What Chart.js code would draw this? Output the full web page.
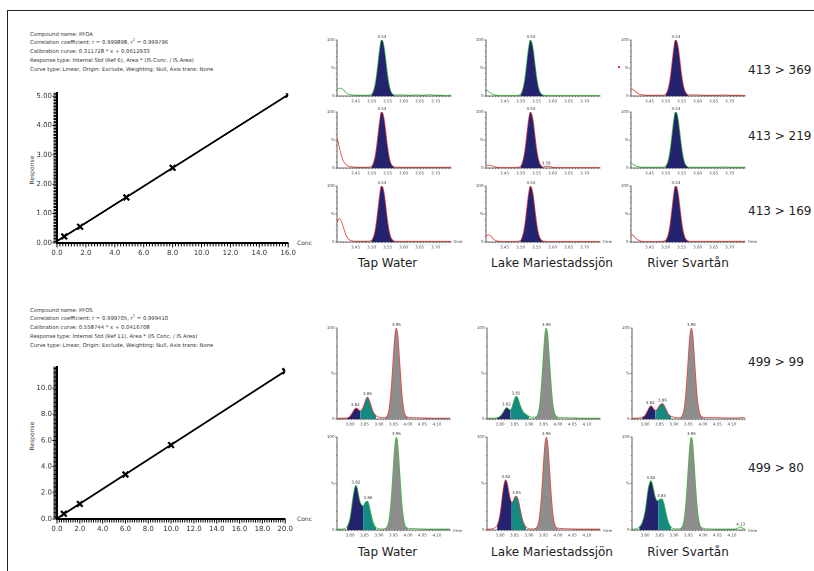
<!DOCTYPE html>
<html><head><meta charset="utf-8">
<script src="https://cdn.jsdelivr.net/npm/chart.js@4/dist/chart.umd.min.js"></script>
<style>
html,body{margin:0;padding:0;background:#fff;}
body{width:814px;height:571px;position:relative;overflow:hidden;font-family:"DejaVu Sans",Verdana,sans-serif;}
.frame{position:absolute;background:#222;}
.info{position:absolute;left:30px;font-size:5.3px;line-height:8.75px;color:#333;white-space:pre;}
.info sup{font-size:3.6px;line-height:0;vertical-align:3px;}
.big{position:absolute;font-size:12px;line-height:14px;color:#222;white-space:nowrap;}
.ctr{transform:translateX(-50%);}
.small{position:absolute;font-size:6px;line-height:8px;color:#444;white-space:nowrap;}
.rot{transform:translate(-50%,-50%) rotate(-90deg);}
.tiny{position:absolute;font-size:4px;line-height:5px;color:#444;white-space:nowrap;}
canvas{position:absolute;}
</style></head><body>
<div class="frame" style="left:7px;top:10px;width:1px;height:561px"></div>
<div class="frame" style="left:7px;top:10px;width:807px;height:1px"></div>

<div class="info" style="top:29.6px">Compound name: PFOA
Correlation coefficient: r = 0.999898, r<sup>2</sup> = 0.999796
Calibration curve: 0.311728 * x + 0.0612933
Response type: Internal Std (Ref 6), Area * (IS Conc. / IS Area)
Curve type: Linear, Origin: Exclude, Weighting: Null, Axis trans: None</div>
<div class="info" style="top:305.6px">Compound name: PFOS
Correlation coefficient: r = 0.999705, r<sup>2</sup> = 0.999410
Calibration curve: 0.558744 * x + 0.0416708
Response type: Internal Std (Ref 11), Area * (IS Conc. / IS Area)
Curve type: Linear, Origin: Exclude, Weighting: Null, Axis trans: None</div>

<div class="small rot" style="left:31.5px;top:170px">Response</div>
<div class="small rot" style="left:31.5px;top:436px">Response</div>
<div class="small" style="left:297px;top:239px">Conc</div>
<div class="small" style="left:297px;top:515px">Conc</div>

<div class="big" style="left:748px;top:63px">413 &gt; 369</div>
<div class="big" style="left:748px;top:129px">413 &gt; 219</div>
<div class="big" style="left:748px;top:204px">413 &gt; 169</div>
<div class="big" style="left:748px;top:355px">499 &gt; 99</div>
<div class="big" style="left:748px;top:461px">499 &gt; 80</div>

<div class="big ctr" style="left:387.5px;top:256px">Tap Water</div>
<div class="big ctr" style="left:552px;top:256px">Lake Mariestadssjön</div>
<div class="big ctr" style="left:688px;top:256px">River Svartån</div>
<div class="big ctr" style="left:387.5px;top:545px">Tap Water</div>
<div class="big ctr" style="left:552px;top:545px">Lake Mariestadssjön</div>
<div class="big ctr" style="left:688px;top:545px">River Svartån</div>
<div style="position:absolute;left:618px;top:66px;width:2px;height:2px;background:#e33"></div>

<script>
// ---------------- calibration data ----------------
const pfoaConc = [0.5, 1.6, 4.8, 8.0, 16.0];
const pfoaResp = [0.22, 0.55, 1.55, 2.56, 5.05];
const pfoaFitConc = [0, 16];
const pfoaFitResp = [0.06, 5.05];
const pfosConc = [0.6, 2.0, 6.0, 10.0, 20.0];
const pfosResp = [0.4, 1.15, 3.4, 5.65, 11.3];
const pfosFitConc = [0, 20];
const pfosFitResp = [0.04, 11.3];

// ---------------- chromatogram data (% intensity) ----------------
const pfoaTime = [3.392,3.40,3.41,3.42,3.43,3.44,3.46,3.49,3.50,3.505,3.51,3.515,3.52,3.525,3.53,3.535,3.54,3.545,3.55,3.555,3.56,3.565,3.57,3.58,3.60,3.62,3.64,3.66,3.68,3.70,3.72,3.735,3.742,3.748];
const pfoaTapMrm369   = [12,14,12,6,3,2,1.5,1.5, 3,8,18,36,60,84,100,98,85,62,38,20,9,4,2, 2,2,1.5,2,1.5,2.5,1.5,1.5,1,1.5,1];
const pfoaLakeMrm369  = [11,8,4,2,1.2,1,1,1.2, 3,9,20,39,64,87,100,96,82,58,35,18,8,3.5,1.8, 1.2,1,1,1,1,1,1,1,1,1,1];
const pfoaRiverMrm369 = [14,11,6,3,2,1.5,1.5,1.5, 3,8,18,35,59,83,100,98,86,63,39,21,10,4.5,2.2, 2,2,1.5,1.5,1.5,2,1.5,1.5,1.5,1.2,1.2];
const pfoaTapMrm219   = [55,35,15,6,3,2,1.5,1.5, 3,8,18,36,60,84,100,98,85,62,38,20,9,4,2, 1.5,1.5,1.5,1.5,1.5,1.5,1.5,1.5,1.5,1.5,1.5];
const pfoaLakeMrm219  = [5,5,4,2,1.2,1,1,1.2, 3,9,20,39,64,87,100,96,82,58,35,18,8,3.5,2, 3,1.5,1,1,1,1,1,1,1,1,1];
const pfoaRiverMrm219 = [9,6,3,2,1.5,1.5,1.5,1.5, 3,8,18,36,60,84,100,98,85,62,38,20,9,4,2, 1.5,1.5,1.5,1.5,1.5,2,1.5,1.5,1.5,1.5,1.5];
const pfoaTapMrm169   = [35,42,30,12,4,2,1.5,1.5, 3,8,18,36,60,84,100,98,85,62,38,20,9,4,2, 1.2,1.2,1.2,1.2,1.2,1.2,1.2,1.2,1.2,1.2,1.2];
const pfoaLakeMrm169  = [10,13,9,3,1.5,1.2,1,1.2, 3,9,20,39,64,87,100,96,82,58,35,18,8,3.5,1.8, 1.2,1,1,1,1,1,1,1,1,1,1];
const pfoaRiverMrm169 = [15,11,5,2,1.2,1,1,1.2, 3,8,18,36,60,84,100,98,85,62,38,20,9,4,2, 1.2,1.2,1.2,1.2,1.2,1.2,1.2,1.2,1.2,1.2,1.2];
const pfoaPeakLabels = [[3.532, 100, "3.53"]];
const pfoaLakeMrm219Labels = [[3.532, 100, "3.53"], [3.58, 3, "3.58"]];
const pfoaPeakRange = [8, 22];

const pfosTime = [3.755,3.77,3.78,3.79,3.80,3.81,3.815,3.82,3.825,3.83,3.835,3.84,3.845,3.85,3.855,3.86,3.865,3.87,3.88,3.89,3.90,3.91,3.92,3.93,3.935,3.94,3.945,3.95,3.955,3.96,3.965,3.97,3.975,3.98,3.985,3.99,4.00,4.02,4.05,4.08,4.11,4.12,4.13,4.14,4.145];
const pfosTapMrm99    = [1,1,1,1.2,3,8,10.5,12,11.5,10,9,10,13,17.5,22,24,22,17.5,8,3.5,2,1.5, 1.5,5,12,26,47,72,93,100,92,70,46,25,12,5,2, 1.5,1.2,1,1,1,1,1,1];
const pfosLakeMrm99   = [1,1,1,1.5,3,7,10,12,12.5,11,10,12,17,22,25,24,20,15,8,5,3,2, 2,5,12,26,48,73,94,100,91,69,45,24,11,5,2, 1.5,1.2,1,1,1,1,1,1];
const pfosRiverMrm99  = [1,1,1.2,2,4,10,13,14.5,13.5,11,9.5,10,12.5,15,16.5,17,15.5,12.5,6,3,2,1.5, 1.5,5,12,26,47,72,93,100,92,70,46,25,12,5,2, 1.5,1.5,1.2,1.2,1.2,1.5,1.5,1.5];
const pfosTapMrm80    = [1,1,1.5,3.5,13,35,44,48,45,37,30,27,26,28.5,30.5,31,28,21,8,2.5,1.5,1.2, 1.5,5,12,26,47,72,93,100,92,70,46,25,12,5,2, 1.5,1.2,1,1,1,1,1,1];
const pfosLakeMrm80   = [1,1.2,2,5,17,42,51,54,50,42,34,30,31,35,36.5,35,30,22,9,3,1.5,1.2, 1.5,5,12,26,47,72,93,100,92,70,46,25,12,5,2, 1.5,1.2,1,1,1,1,1,1];
const pfosRiverMrm80  = [1,1.5,3,8,20,43,50,53,50,43,36,32,31.5,33,33.5,33,29,22,9,3,1.5,1.2, 1.5,5,12,26,47,72,93,100,92,70,46,25,12,5,2, 1.2,1,1,1,2,3,1.5,1];
// peak fill index ranges: [navyStart, split, tealEnd]
const pfosTapMrm99Ranges   = [3, 10, 19];
const pfosLakeMrm99Ranges  = [3, 10, 20];
const pfosRiverMrm99Ranges = [3, 10, 19];
const pfosTapMrm80Ranges   = [3, 12, 19];
const pfosLakeMrm80Ranges  = [3, 11, 19];
const pfosRiverMrm80Ranges = [2, 12, 19];
const pfosGreyRange = [22, 36];
const pfosTapMrm99Labels   = [[3.818,12,"3.82"],[3.86,24,"3.86"],[3.96,100,"3.96"]];
const pfosLakeMrm99Labels  = [[3.822,12.5,"3.82"],[3.855,25,"3.85"],[3.96,100,"3.96"]];
const pfosRiverMrm99Labels = [[3.818,14.5,"3.82"],[3.86,17,"3.86"],[3.96,100,"3.96"]];
const pfosTapMrm80Labels   = [[3.82,48,"3.82"],[3.862,31,"3.86"],[3.96,100,"3.96"]];
const pfosLakeMrm80Labels  = [[3.82,54,"3.82"],[3.857,36.5,"3.85"],[3.96,100,"3.96"]];
const pfosRiverMrm80Labels = [[3.82,53,"3.82"],[3.857,33.5,"3.85"],[3.96,100,"3.96"],[4.13,3,"4.13"]];

// ---------------- styles ----------------
const NAVY = '#23236f', TEAL = '#158a82', GREY = '#8d8d8d', GREEN = '#3fbf3f', RED = '#e8463e';
const FONT = 'DejaVu Sans';

function makeCanvas(left, top, w, h) {
  const c = document.createElement('canvas');
  c.style.left = left + 'px'; c.style.top = top + 'px';
  c.style.width = w + 'px'; c.style.height = h + 'px';
  c.width = w; c.height = h;
  document.body.appendChild(c);
  return c;
}
function near(v, step) { return Math.abs(v / step - Math.round(v / step)) < 1e-6; }

const peakLabelPlugin = {
  id: 'peakLabels',
  afterDatasetsDraw(chart, args, opts) {
    const items = opts.items || [];
    const ctx = chart.ctx;
    ctx.save();
    ctx.font = '4px "' + FONT + '"';
    ctx.fillStyle = '#333';
    ctx.textAlign = 'center';
    ctx.textBaseline = 'bottom';
    items.forEach(it => {
      ctx.fillText(it[2], chart.scales.x.getPixelForValue(it[0]), chart.scales.y.getPixelForValue(it[1]) - 1);
    });
    ctx.restore();
  }
};

// dense "ruler" tick marks drawn through the chart's own scales
function makeRuler(o) {
  return {
    id: 'ruler',
    afterDraw(chart) {
      const ctx = chart.ctx, xs = chart.scales.x, ys = chart.scales.y, ca = chart.chartArea;
      ctx.save();
      ctx.strokeStyle = o.color;
      ctx.lineWidth = o.width;
      for (let i = 0; i < 2000; i++) {
        const v = xs.min + i * o.xStep;
        if (v > xs.max + 1e-9) break;
        const p = xs.getPixelForValue(v);
        const L = near(v, o.xMajor) ? o.major : o.minor;
        ctx.beginPath(); ctx.moveTo(p, ca.bottom); ctx.lineTo(p, ca.bottom + L); ctx.stroke();
      }
      for (let i = 0; i < 2000; i++) {
        const v = ys.min + i * o.yStep;
        if (v > ys.max + 1e-9) break;
        const p = ys.getPixelForValue(v);
        const L = near(v, o.yMajor) ? o.major : o.minor;
        ctx.beginPath(); ctx.moveTo(ca.left, p); ctx.lineTo(ca.left - L, p); ctx.stroke();
      }
      ctx.restore();
    }
  };
}

function pts(xs, ys, a, b) {
  const out = [];
  for (let i = a; i <= b; i++) out.push({x: xs[i], y: ys[i]});
  return out;
}

function chrom(spec) {
  const padT = 9, padR = 4, yW = 14, xH = 10;
  const cw = yW + spec.w + padR, ch = padT + spec.h + xH;
  const c = makeCanvas(spec.left - yW, spec.top - padT, cw, ch);
  const xs = spec.time, ys = spec.values;
  const datasets = [{
    data: pts(xs, ys, 0, xs.length - 1), borderColor: spec.color, borderWidth: 0.8,
    fill: false, cubicInterpolationMode: 'monotone', pointRadius: 0
  }];
  spec.fills.forEach(f => {
    datasets.push({
      data: pts(xs, ys, f[0], f[1]), borderWidth: 0, borderColor: 'rgba(0,0,0,0)',
      backgroundColor: f[2], fill: 'origin', cubicInterpolationMode: 'monotone', pointRadius: 0
    });
  });
  const axisGrid = {display: false, drawTicks: false, tickLength: 0};
  const axisBorder = {display: true, color: '#333', width: 0.8};
  new Chart(c, {
    type: 'line',
    data: {datasets},
    options: {
      responsive: false, animation: false, devicePixelRatio: 2,
      layout: {padding: {top: padT, right: padR, left: 0, bottom: 0}},
      plugins: {legend: {display: false}, tooltip: {enabled: false}, peakLabels: {items: spec.labels}},
      scales: {
        x: {
          type: 'linear', min: spec.min, max: spec.max,
          afterFit(s) { s.height = xH; },
          ticks: {stepSize: 0.05, includeBounds: false, autoSkip: false, maxRotation: 0, minRotation: 0,
            padding: 3, font: {size: 4, family: FONT}, color: '#444',
            callback: function (v) {
              return (near(v, 0.05) && v > this.min + 0.015 && v < this.max - 0.015) ? v.toFixed(2) : '';
            }},
          grid: axisGrid, border: axisBorder
        },
        y: {
          min: 0, max: 100,
          afterFit(s) { s.width = yW; },
          ticks: {stepSize: 50, includeBounds: false, autoSkip: false, padding: 2.5, font: {size: 4, family: FONT}, color: '#444',
            callback: v => v === 100 ? '100' : (v === 50 ? '%' : (v === 0 ? '0' : ''))},
          grid: axisGrid, border: axisBorder
        }
      }
    },
    plugins: [peakLabelPlugin, makeRuler({xStep: 0.01, xMajor: 0.05, yStep: 10, yMajor: 50, major: 2, minor: 1.2, width: 0.5, color: '#444'})]
  });
  if (spec.showTime) {
    const d = document.createElement('div');
    d.className = 'tiny';
    d.style.left = (spec.left + spec.w + 3) + 'px';
    d.style.top = (spec.top + spec.h - 2.5) + 'px';
    d.textContent = 'time';
    document.body.appendChild(d);
  }
}

// PFOA chromatograms
const pfoaCols = [336.5, 486, 631];
const pfoaRows = [39.5, 112, 185.5];
const pfoaGrid = [
  [pfoaTapMrm369, GREEN, pfoaPeakLabels], [pfoaLakeMrm369, GREEN, pfoaPeakLabels], [pfoaRiverMrm369, RED, pfoaPeakLabels],
  [pfoaTapMrm219, RED, pfoaPeakLabels], [pfoaLakeMrm219, RED, pfoaLakeMrm219Labels], [pfoaRiverMrm219, GREEN, pfoaPeakLabels],
  [pfoaTapMrm169, RED, pfoaPeakLabels], [pfoaLakeMrm169, RED, pfoaPeakLabels], [pfoaRiverMrm169, RED, pfoaPeakLabels]
];
pfoaGrid.forEach((g, i) => {
  const r = Math.floor(i / 3), col = i % 3;
  chrom({left: pfoaCols[col], top: pfoaRows[r], w: 114, h: 56, time: pfoaTime, values: g[0], color: g[1],
    labels: g[2], min: 3.392, max: 3.748, fills: [[pfoaPeakRange[0], pfoaPeakRange[1], NAVY]], showTime: r === 2});
});

// PFOS chromatograms
const pfosCols = [337, 487, 632];
const pfosRows = [327.5, 437];
const pfosGridSpec = [
  [pfosTapMrm99, RED, pfosTapMrm99Labels, pfosTapMrm99Ranges],
  [pfosLakeMrm99, GREEN, pfosLakeMrm99Labels, pfosLakeMrm99Ranges],
  [pfosRiverMrm99, RED, pfosRiverMrm99Labels, pfosRiverMrm99Ranges],
  [pfosTapMrm80, GREEN, pfosTapMrm80Labels, pfosTapMrm80Ranges],
  [pfosLakeMrm80, RED, pfosLakeMrm80Labels, pfosLakeMrm80Ranges],
  [pfosRiverMrm80, GREEN, pfosRiverMrm80Labels, pfosRiverMrm80Ranges]
];
pfosGridSpec.forEach((g, i) => {
  const r = Math.floor(i / 3), col = i % 3;
  const rg = g[3];
  chrom({left: pfosCols[col], top: pfosRows[r], w: 113, h: r === 0 ? 91 : 93, time: pfosTime, values: g[0], color: g[1],
    labels: g[2], min: 3.755, max: 4.145,
    fills: [[rg[0], rg[1], NAVY], [rg[1], rg[2], TEAL], [pfosGreyRange[0], pfosGreyRange[1], GREY]],
    showTime: r === 1});
});

// Calibration curves
function cal(spec) {
  const yW = 37, xH = 17, padR = 6;
  const plotH = spec.bottom - spec.top;
  const c = makeCanvas(spec.left - yW, spec.top - spec.padT, yW + spec.w + padR, spec.padT + plotH + xH);
  const noGrid = {display: false, drawTicks: false, tickLength: 0};
  new Chart(c, {
    type: 'scatter',
    data: {datasets: [
      {data: spec.conc.map((x, i) => ({x, y: spec.resp[i]})), pointStyle: 'crossRot', pointRadius: 4,
        borderColor: '#000', backgroundColor: '#000', pointBorderWidth: 2.2, showLine: false},
      {data: spec.fitC.map((x, i) => ({x, y: spec.fitR[i]})), showLine: true, borderColor: '#000',
        borderWidth: 1.8, pointRadius: 0}
    ]},
    options: {
      responsive: false, animation: false, devicePixelRatio: 2,
      layout: {padding: {top: spec.padT, right: padR, left: 0, bottom: 0}},
      plugins: {legend: {display: false}, tooltip: {enabled: false}},
      scales: {
        x: {type: 'linear', min: 0, max: spec.xMax, afterFit(s) { s.height = xH; },
          ticks: {stepSize: 2, includeBounds: false, autoSkip: false, maxRotation: 0, minRotation: 0, padding: 6,
            font: {size: 7, family: FONT}, color: '#333',
            callback: v => near(v, 2) ? (Math.round(v * 10) / 10).toFixed(1) : ''},
          grid: noGrid, border: {display: true, color: '#000', width: 2}},
        y: {type: 'linear', min: 0, max: spec.yMax, afterFit(s) { s.width = yW; },
          ticks: {stepSize: spec.yLabelEvery, includeBounds: false, autoSkip: false, padding: 5,
            font: {size: 7, family: FONT}, color: '#333',
            callback: v => near(v, spec.yLabelEvery) ? (Math.round(v * 10) / 10).toFixed(spec.yDigits) : ''},
          grid: noGrid, border: {display: true, color: '#000', width: 2}}
      }
    },
    plugins: [makeRuler({xStep: spec.xMinor, xMajor: 2, yStep: spec.yMinor, yMajor: spec.yLabelEvery, major: 4.5, minor: 3.5, width: 1, color: '#000'})]
  });
}
cal({left: 57, w: 239, top: 91.3, bottom: 243, padT: 7, xMax: 16, yMax: 5.1, xMinor: 0.2, yMinor: 0.05, yLabelEvery: 1, yDigits: 2,
  conc: pfoaConc, resp: pfoaResp, fitC: pfoaFitConc, fitR: pfoaFitResp});
cal({left: 57, w: 236.3, top: 364.7, bottom: 519, padT: 7, xMax: 20, yMax: 11.6, xMinor: 0.2, yMinor: 0.1, yLabelEvery: 2, yDigits: 1,
  conc: pfosConc, resp: pfosResp, fitC: pfosFitConc, fitR: pfosFitResp});
</script>
</body></html>
